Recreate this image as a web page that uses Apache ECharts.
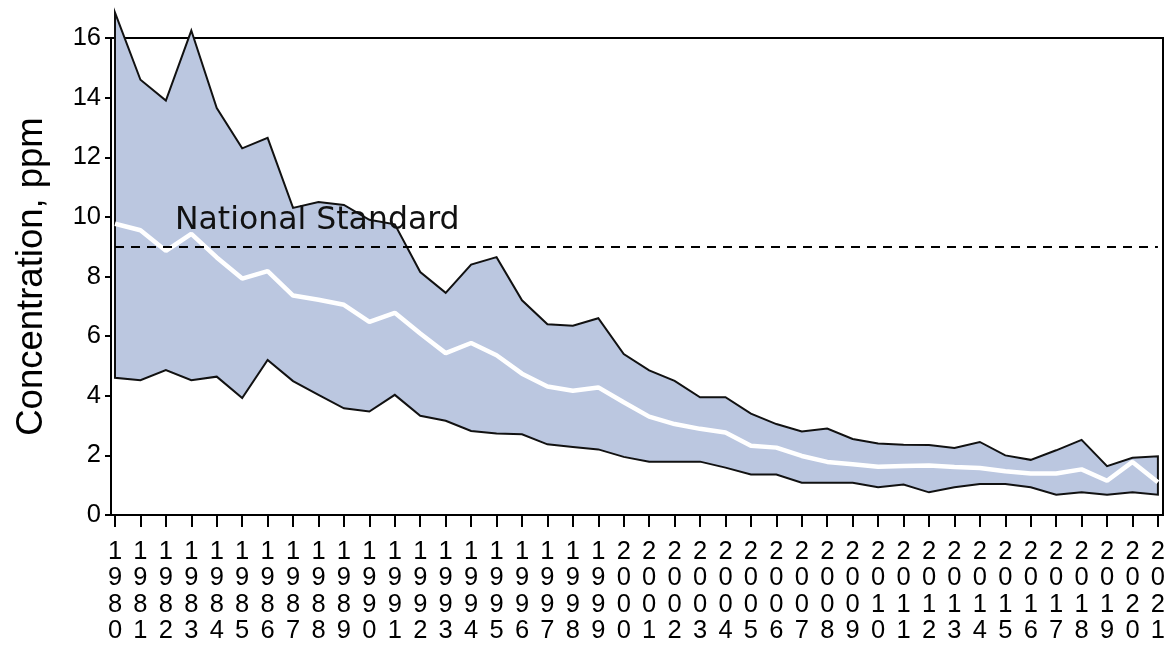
<!DOCTYPE html>
<html>
<head>
<meta charset="utf-8">
<script src="https://cdn.jsdelivr.net/npm/echarts@6/dist/echarts.min.js"></script>
<style>
html,body{margin:0;padding:0;background:#fff;}
#chart{width:1168px;height:658px;}
</style>
</head>
<body>
<div id="chart"></div>
<script>
const years = ['1980','1981','1982','1983','1984','1985','1986','1987','1988','1989',
  '1990','1991','1992','1993','1994','1995','1996','1997','1998','1999',
  '2000','2001','2002','2003','2004','2005','2006','2007','2008','2009',
  '2010','2011','2012','2013','2014','2015','2016','2017','2018','2019','2020','2021'];

const upper90 = [16.85, 14.6, 13.9, 16.25, 13.65, 12.3, 12.65, 10.3, 10.5, 10.4,
  9.9, 9.75, 8.15, 7.45, 8.4, 8.65, 7.2, 6.4, 6.35, 6.6,
  5.4, 4.85, 4.5, 3.95, 3.95, 3.4, 3.05, 2.8, 2.9, 2.55,
  2.4, 2.36, 2.35, 2.25, 2.45, 2.0, 1.85, 2.17, 2.52, 1.64, 1.92, 1.97];

const meanValues = [9.77, 9.55, 8.86, 9.43, 8.64, 7.93, 8.18, 7.36, 7.22, 7.05,
  6.48, 6.78, 6.09, 5.43, 5.77, 5.36, 4.74, 4.31, 4.17, 4.28,
  3.78, 3.3, 3.05, 2.89, 2.77, 2.32, 2.26, 1.98, 1.78, 1.7,
  1.62, 1.64, 1.66, 1.61, 1.58, 1.47, 1.39, 1.39, 1.53, 1.15, 1.78, 1.1];

const lower10 = [4.6, 4.52, 4.86, 4.52, 4.64, 3.92, 5.2, 4.49, 4.03, 3.58,
  3.47, 4.03, 3.33, 3.16, 2.82, 2.73, 2.71, 2.37, 2.28, 2.2,
  1.95, 1.79, 1.79, 1.79, 1.59, 1.36, 1.36, 1.08, 1.08, 1.08,
  0.93, 1.02, 0.76, 0.93, 1.04, 1.04, 0.93, 0.68, 0.76, 0.68, 0.76, 0.68];

const yTicks = [0, 2, 4, 6, 8, 10, 12, 14, 16];
const standardValue = 9;
const standardLabel = 'National Standard';
const yTitle = 'Concentration, ppm';

const chart = echarts.init(document.getElementById('chart'), null, {renderer: 'canvas'});

const bandData = years.map((y, i) => [i, lower10[i], upper90[i]]);

const option = {
  backgroundColor: '#ffffff',
  animation: false,
  grid: [
    {left: 111, top: 38, width: 1052, height: 477, show: true, borderColor: '#000', borderWidth: 2, backgroundColor: 'transparent'},
    {left: 115, top: 38, width: 1045, height: 477, show: false}
  ],
  xAxis: [
    {gridIndex: 0, type: 'value', show: false, min: 0, max: 1},
    {
      gridIndex: 1, type: 'category', data: years, boundaryGap: false,
      axisLine: {show: false},
      axisTick: {show: true, length: 12, interval: 0, lineStyle: {color: '#000', width: 2}},
      axisLabel: {
        interval: 0, margin: 24, color: '#000', fontFamily: 'Liberation Sans, Arial', fontSize: 25.5, lineHeight: 26.3,
        formatter: v => v.split('').join('\n')
      },
      splitLine: {show: false}
    }
  ],
  yAxis: [
    {
      gridIndex: 0, type: 'value', min: yTicks[0], max: yTicks[yTicks.length - 1], interval: 2,
      name: yTitle, nameLocation: 'middle', nameGap: 61,
      nameTextStyle: {color: '#000', fontFamily: 'Liberation Sans, Arial', fontSize: 36.5},
      axisLine: {show: true, lineStyle: {color: '#000', width: 2}},
      axisTick: {show: true, length: 6, lineStyle: {color: '#000', width: 2}},
      axisLabel: {color: '#000', fontFamily: 'Liberation Sans, Arial', fontSize: 25.5, margin: 10},
      splitLine: {show: false}
    },
    {gridIndex: 1, type: 'value', min: yTicks[0], max: yTicks[yTicks.length - 1], show: false}
  ],
  series: [
    {
      type: 'custom',
      xAxisIndex: 1, yAxisIndex: 1,
      clip: false,
      z: 2,
      data: bandData,
      encode: {x: 0, y: [1, 2]},
      renderItem: function (params, api) {
        if (params.dataIndex !== 0) return null;
        const pts = [];
        for (let i = 0; i < bandData.length; i++) pts.push(api.coord([i, bandData[i][2]]));
        for (let i = bandData.length - 1; i >= 0; i--) pts.push(api.coord([i, bandData[i][1]]));
        return {
          type: 'polygon',
          shape: {points: pts},
          style: {fill: '#bbc7e0', stroke: '#111', lineWidth: 2, lineJoin: 'miter'}
        };
      }
    },
    {
      type: 'line',
      xAxisIndex: 1, yAxisIndex: 1,
      data: meanValues,
      symbol: 'none',
      z: 4,
      lineStyle: {color: '#ffffff', width: 4.5},
      markLine: {
        silent: true,
        symbol: ['none', 'none'],
        data: [{yAxis: standardValue}],
        lineStyle: {color: '#000', type: [9, 7], width: 2},
        label: {
          show: true, position: 'insideStartTop', formatter: standardLabel,
          color: '#111', fontFamily: 'DejaVu Sans', fontSize: 31.5, distance: [60, 10]
        }
      }
    }
  ]
};
chart.setOption(option);
</script>
</body>
</html>
